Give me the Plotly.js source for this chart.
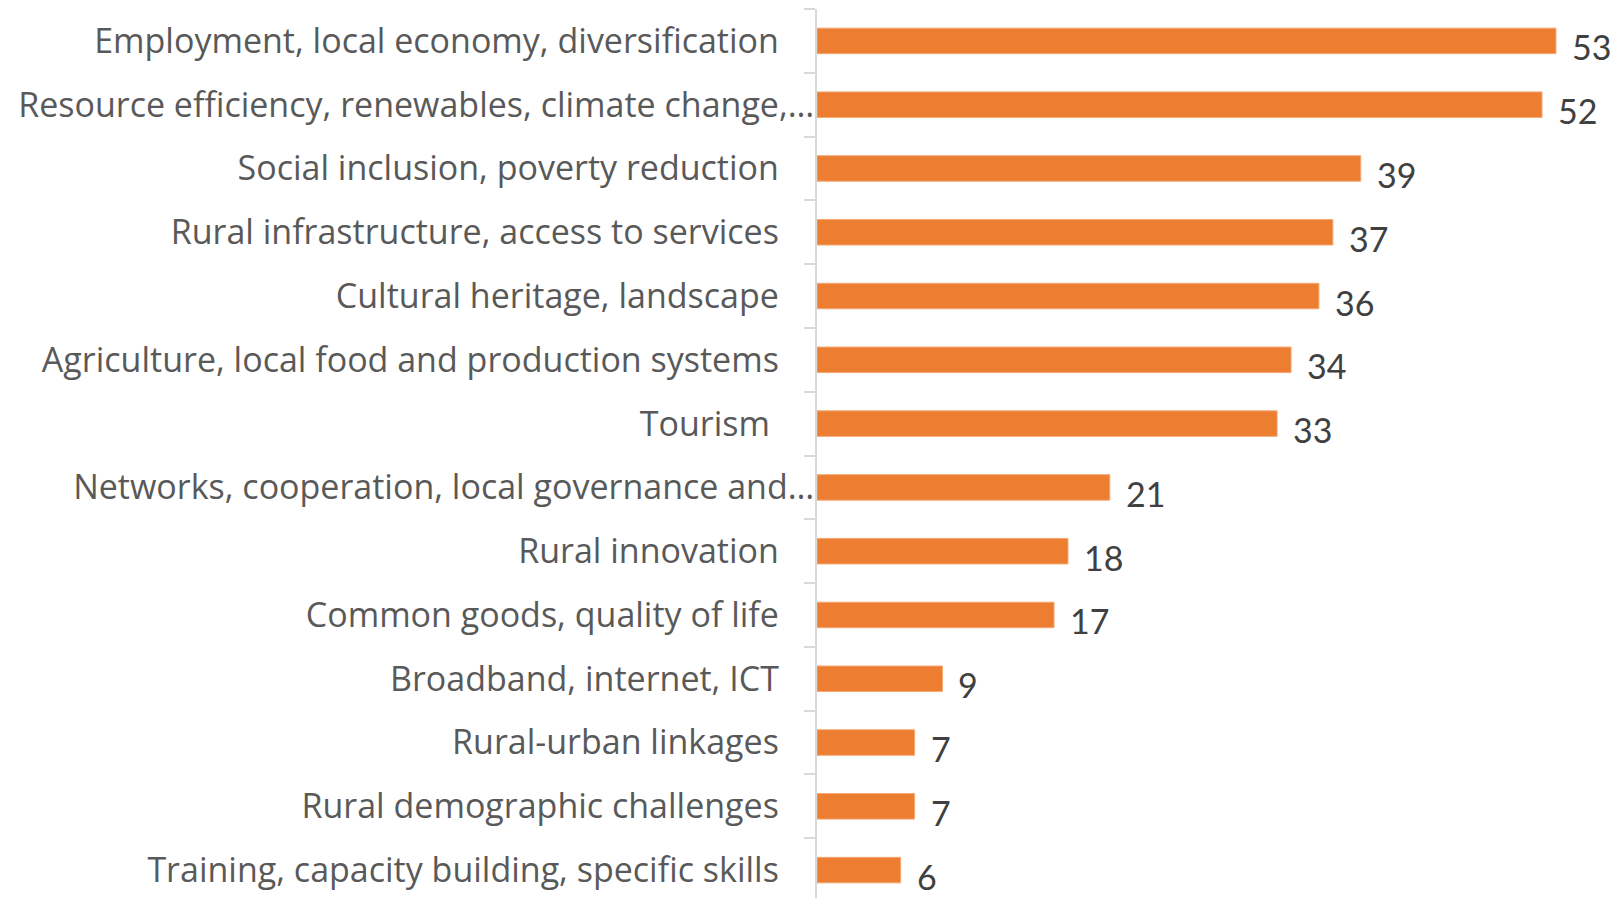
<!DOCTYPE html>
<html>
<head>
<meta charset="utf-8">
<script src="https://cdn.plot.ly/plotly-3.0.1.min.js"></script>
<style>
  html, body { margin: 0; padding: 0; overflow: hidden; background: #fff; }
</style>
</head>
<body>
<div id="chart"></div>
<script>
// themes, top to bottom as in the picture
var themes = [
  "Employment, local economy, diversification",
  "Resource efficiency, renewables, climate change,…",
  "Social inclusion, poverty reduction",
  "Rural infrastructure, access to services",
  "Cultural heritage, landscape",
  "Agriculture, local food and production systems",
  "Tourism ",
  "Networks, cooperation, local governance and…",
  "Rural innovation",
  "Common goods, quality of life",
  "Broadband, internet, ICT",
  "Rural-urban linkages",
  "Rural demographic challenges",
  "Training, capacity building, specific skills"
];
var counts = [53, 52, 39, 37, 36, 34, 33, 21, 18, 17, 9, 7, 7, 6];
// labels cut with "…" run right up to the axis, the others keep a gap
var truncated = [false, true, false, false, false, false, false, true, false, false, false, false, false, false];

var gap = "\u00a0\u00a0\u00a0\u00a0";
var ticktext = themes.map(function (t, i) {
  return truncated[i] ? t : t.replace(/ $/, "\u00a0") + gap;
});

var trace = {
  type: "bar",
  orientation: "h",
  x: counts,
  y: themes,
  marker: { color: "#ED7D31", line: { color: "#F4A873", width: 1 } },
  hoverinfo: "x+y"
};

var notes = counts.map(function (v, i) {
  return {
    x: v, y: themes[i], xref: "x", yref: "y",
    text: String(v), showarrow: false,
    xanchor: "left", yanchor: "middle",
    xshift: 14, yshift: -6,
    font: { family: "Lato, 'Open Sans', sans-serif", size: 34, color: "#404040" }
  };
});

var layout = {
  width: 1618,
  height: 902,
  margin: { l: 817, r: 0, t: 9, b: 0, pad: 0 },
  paper_bgcolor: "#fff",
  plot_bgcolor: "#fff",
  bargap: 0.6,
  showlegend: false,
  xaxis: {
    range: [0, 57.45],
    visible: false,
    fixedrange: true
  },
  yaxis: {
    type: "category",
    autorange: "reversed",
    tickmode: "array",
    tickvals: themes,
    ticktext: ticktext,
    tickson: "boundaries",
    ticks: "outside",
    ticklen: 11,
    tickcolor: "#D9D9D9",
    tickwidth: 2,
    ticklabelstandoff: -6,
    showline: true,
    linecolor: "#D9D9D9",
    linewidth: 2,
    showgrid: false,
    zeroline: false,
    tickfont: { family: "'Open Sans', sans-serif", size: 34, color: "#595959" },
    fixedrange: true
  },
  annotations: notes
};

Plotly.newPlot("chart", [trace], layout, { displayModeBar: false, staticPlot: true });
</script>
</body>
</html>
